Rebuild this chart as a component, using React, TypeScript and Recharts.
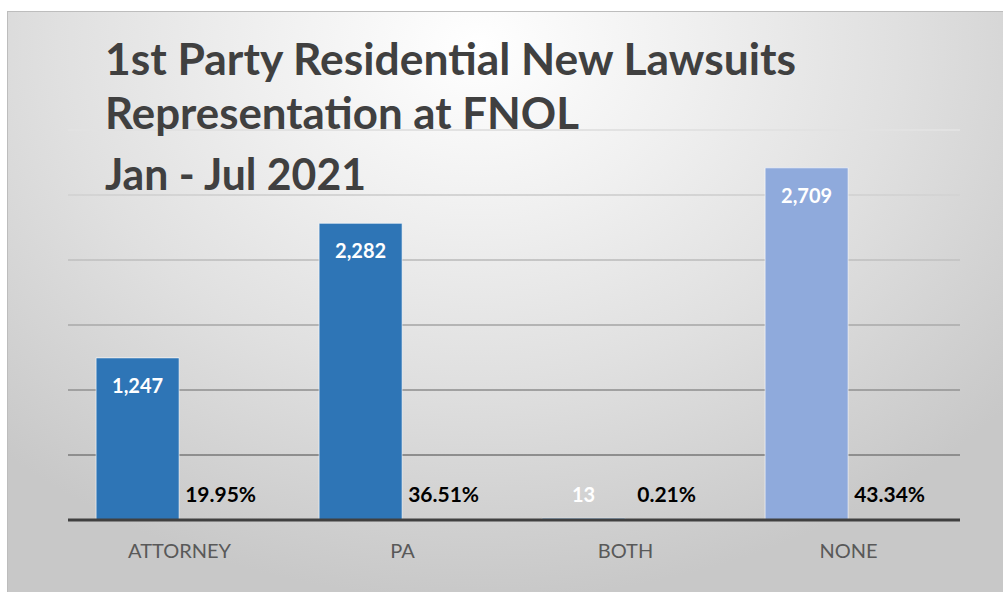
import { BarChart, Bar, XAxis, YAxis, CartesianGrid, Cell, LabelList } from "recharts";

const categories = ["ATTORNEY", "PA", "BOTH", "NONE"];
const counts = [1247, 2282, 13, 2709];
const shares = [19.95, 36.51, 0.21, 43.34];
const barColors = ["#2E75B6", "#2E75B6", "#2E75B6", "#8FAADC"];
const yTicks = [0, 500, 1000, 1500, 2000, 2500, 3000];
const titleLines = [
  "1st Party Residential New Lawsuits",
  "Representation at FNOL",
  "Jan - Jul 2021",
];

const chartData = categories.map((name, i) => ({
  name,
  count: counts[i],
  share: shares[i],
}));

const FONT = "Lato, 'Open Sans', sans-serif";

// count label sits inside the bar top, or just above the axis when the bar is tiny
function CountLabel(props: any) {
  const { x, y, width, height, value } = props;
  const bottom = y + height;
  const baseline = Math.min(y + 35, bottom - 18);
  return (
    <text
      x={x + width / 2}
      y={baseline}
      textAnchor="middle"
      fill="#ffffff"
      fontFamily={FONT}
      fontWeight={700}
      fontSize={20}
    >
      {value.toLocaleString("en-US")}
    </text>
  );
}

function ShareLabel(props: any) {
  const { x, y, width, height, value } = props;
  return (
    <text
      x={x + width / 2}
      y={y + height - 18}
      textAnchor="middle"
      fill="#000000"
      fontFamily={FONT}
      fontWeight={700}
      fontSize={21}
    >
      {value.toFixed(2)}%
    </text>
  );
}

function CategoryTick(props: any) {
  const { x, y, payload } = props;
  return (
    <text
      x={x}
      y={y}
      dy={30}
      textAnchor="middle"
      fill="#595959"
      fontFamily={FONT}
      fontSize={20}
    >
      {payload.value}
    </text>
  );
}

export default function App() {
  return (
    <div
      style={{
        position: "absolute",
        left: 0,
        top: 0,
        width: 1003,
        height: 592,
        background: "#ffffff",
        overflow: "hidden",
      }}
    >
      <div
        style={{
          position: "absolute",
          left: 7,
          top: 11,
          width: 998,
          height: 582,
          border: "1px solid #bdbdbd",
          background:
            "radial-gradient(ellipse 70% 95% at 47% 6%, #ffffff 0%, #f0f0f0 30%, #e0e0e0 60%, #c8c8c8 100%)",
        }}
      >
        <div style={{ position: "absolute", left: 0, top: 0 }}>
          <BarChart
            width={996}
            height={580}
            data={chartData}
            margin={{ top: 118, right: 44, left: 60, bottom: 0 }}
            barCategoryGap="12.6%"
            barGap={0}
          >
            <defs>
              <linearGradient id="gridFade" gradientUnits="userSpaceOnUse" x1="0" y1="118" x2="0" y2="443">
                <stop offset="0%" stopColor="#e2e2e2" />
                <stop offset="45%" stopColor="#c2c2c2" />
                <stop offset="100%" stopColor="#8e8e8e" />
              </linearGradient>
            </defs>
            <CartesianGrid vertical={false} stroke="url(#gridFade)" strokeWidth={2} />
            <YAxis hide domain={[0, 3000]} ticks={yTicks} />
            <XAxis
              dataKey="name"
              height={72}
              axisLine={{ stroke: "#404040", strokeWidth: 3 }}
              tickLine={false}
              tick={<CategoryTick />}
            />
            <Bar dataKey="count" isAnimationActive={false} stroke="#ffffff" strokeOpacity={0.6} strokeWidth={1}>
              {chartData.map((d, i) => (
                <Cell key={d.name} fill={barColors[i]} />
              ))}
              <LabelList dataKey="count" content={<CountLabel />} />
            </Bar>
            <Bar dataKey="share" isAnimationActive={false} fill="none">
              <LabelList dataKey="share" content={<ShareLabel />} />
            </Bar>
          </BarChart>
        </div>
        <svg
          width={996}
          height={220}
          style={{ position: "absolute", left: 0, top: 0, pointerEvents: "none" }}
        >
          {titleLines.map((line, i) => (
            <text
              key={line}
              x={97}
              y={[63, 117, 178][i]}
              fill="#404040"
              fontFamily={FONT}
              fontWeight={700}
              fontSize={44}
              textLength={[691, 474, 261][i]}
              lengthAdjust="spacingAndGlyphs"
            >
              {line}
            </text>
          ))}
        </svg>
      </div>
    </div>
  );
}
